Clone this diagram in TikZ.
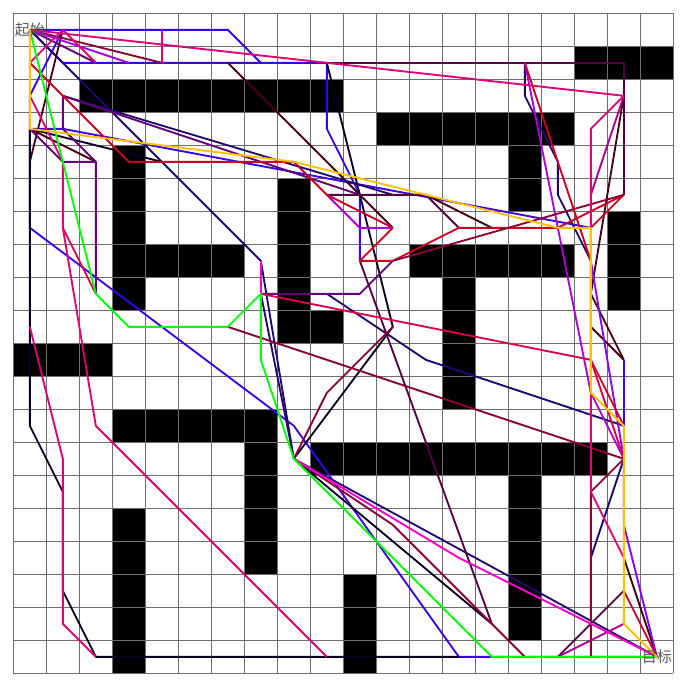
\documentclass[tikz,border=0pt]{standalone}
\usepackage{fontspec}
\newfontfamily\cjk{Noto Sans CJK SC}

\definecolor{gridgray}{HTML}{6E6E6E}
\definecolor{lblgray}{HTML}{5A5A5A}
\definecolor{pblue}{HTML}{3A00F0}
\definecolor{pnavy}{HTML}{22086E}
\definecolor{pblack}{HTML}{0C0020}
\definecolor{pmagenta}{HTML}{DD0077}
\definecolor{photpink}{HTML}{FF00CC}
\definecolor{pred}{HTML}{CC0022}
\definecolor{pcrimson}{HTML}{DD0044}
\definecolor{pmaroon}{HTML}{8C0038}
\definecolor{pbrown}{HTML}{440011}
\definecolor{ppurple}{HTML}{660077}
\definecolor{pdarkpurple}{HTML}{550040}
\definecolor{pviolet}{HTML}{AA00DD}
\definecolor{pvioletblue}{HTML}{8800EE}
\definecolor{pplum}{HTML}{AA0099}
\definecolor{pgreen}{HTML}{00FF00}
\definecolor{pyellow}{HTML}{FFC000}

\begin{document}
\begin{tikzpicture}[y=-1cm,
    gridline/.style={draw=gridgray, line width=0.8pt},
    wall/.style={fill=black},
    pathline/.style={line width=1.6pt, line join=round},
    lbl/.style={inner sep=0pt, text=lblgray, font=\cjk\fontsize{13pt}{15pt}\selectfont}
]
    \useasboundingbox (-0.404,-0.404) rectangle (20.506,20.566);

    % obstacles
    \fill[wall] (17,1) rectangle (20,2);
    \fill[wall] (2,2) rectangle (10,3);
    \fill[wall] (11,3) rectangle (17,4);
    \fill[wall] (15,4) rectangle (16,6);
    \fill[wall] (3,4) rectangle (4,9);
    \fill[wall] (3,7) rectangle (7,8);
    \fill[wall] (8,5) rectangle (9,10);
    \fill[wall] (8,9) rectangle (10,10);
    \fill[wall] (18,6) rectangle (19,9);
    \fill[wall] (12,7) rectangle (17,8);
    \fill[wall] (13,8) rectangle (14,12);
    \fill[wall] (0,10) rectangle (3,11);
    \fill[wall] (3,12) rectangle (8,13);
    \fill[wall] (7,13) rectangle (8,17);
    \fill[wall] (9,13) rectangle (18,14);
    \fill[wall] (15,14) rectangle (16,19);
    \fill[wall] (3,15) rectangle (4,20);
    \fill[wall] (10,17) rectangle (11,20);

    \draw[gridline] (0,0) grid (20,20);

    \begin{scope}[shift={(0.5,0.5)}]
        % blue paths
        \draw[pathline, pblue] (0,0) -- (1,0) -- (6,0) -- (7,1) -- (9,1) -- (9,3) -- (10,5) -- (10,7);
        \draw[pathline, pblue] (0,0) -- (1,1) -- (7,1);
        \draw[pathline, pblue] (1,0) -- (0,2) -- (0,6) -- (8,12) -- (13,19) -- (19,19);
        \draw[pathline, pblue] (0,3) -- (1,3) -- (17,6);
        \draw[pathline, pblue] (18,10) -- (18,12);

        % dark paths
        \draw[pathline, pdarkpurple] (9,1) -- (18,1) -- (18,5);
        \draw[pathline, pmaroon] (0,0) -- (4,1);
        \draw[pathline, pbrown] (6,1) -- (10,5) -- (11,6);
        \draw[pathline, pbrown] (0,4) -- (1,0);
        \draw[pathline, pbrown] (0,3) -- (2,4);
        \draw[pathline, pbrown] (12,5) -- (14,6);
        \draw[pathline, pbrown] (18,2) -- (17,8) -- (18,10);
        \draw[pathline, pbrown] (17,9) -- (18,10);
        \draw[pathline, pbrown] (18,16) -- (19,19);
        \draw[pathline, pblack] (9,1) -- (11,9) -- (8,13) -- (14,18);
        \draw[pathline, pblack] (4,4) -- (0,3) -- (0,12) -- (1,14) -- (1,17) -- (2,19) -- (13,19);

        % navy paths
        \draw[pathline, pnavy] (0,0) -- (7,7) -- (8,13) -- (19,19);
        \draw[pathline, pnavy] (7,8) -- (8,13);
        \draw[pathline, pnavy] (1,2) -- (11,5);
        \draw[pathline, pnavy] (9,8) -- (12,10) -- (18,12);
        \draw[pathline, pnavy] (15,1) -- (15,2) -- (16,4) -- (16,5) -- (17,7);
        \draw[pathline, pnavy] (17,16) -- (18,13);

        % purple paths
        \draw[pathline, ppurple] (1,2) -- (1,3) -- (2,4) -- (2,8);
        \draw[pathline, ppurple] (0,3) -- (1,4) -- (2,4);
        \draw[pathline, ppurple] (1,2) -- (10,5);
        \draw[pathline, ppurple] (0,0) -- (2,1);
        \draw[pathline, ppurple] (7,8) -- (10,8) -- (11,7);
        \draw[pathline, pdarkpurple] (9,5) -- (12,5) -- (13,6);
        \draw[pathline, pdarkpurple] (10,7) -- (14,18);
        \draw[pathline, pdarkpurple] (16,19) -- (18,17);
        \draw[pathline, pplum] (18,2) -- (17,5);
        \draw[pathline, pplum] (16,19) -- (18,18);

        % violet paths
        \draw[pathline, pviolet] (0,0) -- (3,1);
        \draw[pathline, pviolet] (15,1) -- (17,11) -- (18,13);
        \draw[pathline, pviolet] (9,5) -- (10,6) -- (11,6);
        \draw[pathline, pvioletblue] (17,7) -- (18,13) -- (18,15) -- (19,19);

        % red paths
        \draw[pathline, pred] (0,1) -- (3,4) -- (8,4) -- (9,5) -- (11,6);
        \draw[pathline, pred] (11,6) -- (10,7) -- (11,7) -- (13,6) -- (16,6) -- (18,5) -- (17,6);
        \draw[pathline, pred] (15,1) -- (17,7);
        \draw[pathline, pred] (17,10) -- (18,12);
        \draw[pathline, pred] (18,17) -- (19,19);
        \draw[pathline, pcrimson] (7,8) -- (17,10) -- (18,13);
        \draw[pathline, pcrimson] (1,6) -- (2,8);

        % maroon paths
        \draw[pathline, pmaroon] (6,9) -- (18,13) -- (17,14) -- (17,19);
        \draw[pathline, pmaroon] (11,9) -- (9,11) -- (8,13) -- (11,15) -- (15,19);
        \draw[pathline, pmaroon] (11,7) -- (18,5);

        % magenta paths
        \draw[pathline, pmagenta] (0,0) -- (18,2) -- (17,3) -- (17,14) -- (18,16);
        \draw[pathline, pmagenta] (0,2) -- (1,4) -- (1,6) -- (2,12) -- (3,13) -- (9,19);
        \draw[pathline, pmagenta] (0,9) -- (1,13) -- (1,18) -- (2,19);
        \draw[pathline, pmagenta] (0,1) -- (1,0) -- (2,1);
        \draw[pathline, pmagenta] (4,0) -- (4,1);
        \draw[pathline, photpink] (7,7) -- (7,8);
        \draw[pathline, photpink] (8,13) -- (13,16) -- (19,19);

        % green and yellow on top
        \draw[pathline, pgreen] (0,0) -- (2,8) -- (3,9) -- (6,9) -- (7,8) -- (7,10) -- (8,13) -- (14,19) -- (19,19);
        \draw[pathline, pyellow] (0,0) -- (0,3) -- (8,4) -- (16,6) -- (17,6) -- (17,11) -- (18,12) -- (18,18) -- (19,19);

        % labels
        \node[lbl] (start) at (0,0) {起始};
        \node[lbl] (goal) at (19,19) {目标};
    \end{scope}
\end{tikzpicture}
\end{document}
